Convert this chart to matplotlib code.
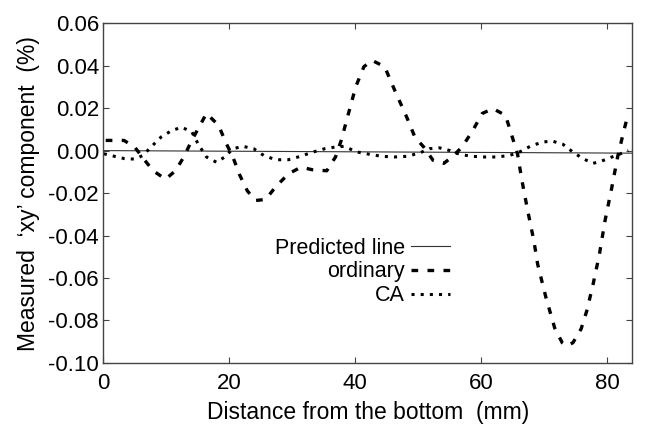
import numpy as np
import matplotlib.pyplot as plt

plt.rcParams['font.family'] = ['Liberation Sans', 'DejaVu Sans']

# ordinary (dashed)
ord_x = [0.4, 3.3, 5.0, 6.4, 7.9, 9.9, 11.5, 12.8, 14.1, 16.4, 18.3, 19.6, 20.6,
         21.6, 22.9, 24.2, 25.8, 27.4, 29.4, 31.4, 33.2, 35.5, 36.9, 37.8, 38.8,
         40.1, 41.4, 42.7, 44.7, 46.3, 48.2, 49.5, 50.9, 52.4, 54.1, 55.4, 57.0,
         58.7, 60.2, 61.9, 63.9, 64.8, 65.8, 66.5, 67.4, 68.4, 69.0, 70.3, 71.7,
         72.9, 73.6, 74.6, 75.9, 76.8, 77.8, 78.8, 79.7, 80.8, 81.7, 82.7, 83.4]
ord_y = [0.0048, 0.0048, 0.0017, -0.0038, -0.0094, -0.0135, -0.0094, -0.003, 0.005,
         0.0175, 0.012, 0.003, -0.003, -0.011, -0.019, -0.0235, -0.023, -0.017,
         -0.011, -0.0078, -0.009, -0.0095, -0.003, 0.0048, 0.0158, 0.030, 0.0395,
         0.0425, 0.0395, 0.0284, 0.0158, 0.0064, 0.0017, -0.0046, -0.006, -0.003,
         0.0017, 0.0095, 0.0175, 0.0198, 0.0166, 0.008, -0.0015, -0.014, -0.028,
         -0.0425, -0.0535, -0.069, -0.0835, -0.0905, -0.092, -0.0905, -0.084,
         -0.0755, -0.063, -0.049, -0.033, -0.017, -0.003, 0.0095, 0.0175]

# CA (dotted)
ca_x = [0.1, 1.8, 3.4, 5.0, 6.3, 7.6, 9.2, 10.9, 12.5, 14.1, 15.1, 16.4, 18.0, 19.3,
        20.6, 22.2, 23.9, 25.5, 27.4, 29.4, 31.3, 33.3, 35.2, 36.9, 38.2, 40.4,
        42.4, 44.3, 46.3, 48.2, 50.2, 51.8, 53.4, 55.1, 56.7, 58.6, 60.6, 62.5,
        64.5, 66.1, 67.8, 69.7, 71.3, 73.0, 74.6, 76.2, 77.8, 79.1, 80.8, 82.4, 83.4]
ca_y = [-0.0015, -0.0027, -0.0038, -0.004, -0.0023, 0.0017, 0.0064, 0.0095, 0.011,
        0.0087, 0.003, -0.003, -0.0055, -0.003, 0.0009, 0.002, 0.0009, -0.0023,
        -0.0043, -0.0043, -0.0027, -0.0007, 0.0009, 0.0017, 0.002, -0.0007, -0.0018,
        -0.0027, -0.003, -0.0027, -0.0012, 0.0009, 0.0013, 0.0, -0.0018, -0.0027,
        -0.003, -0.003, -0.0023, -0.0007, 0.002, 0.004, 0.0045, 0.003, -0.0007,
        -0.0038, -0.006, -0.005, -0.003, -0.0012, 0.0]

# predicted line (straight)
pred_x = [0, 84]
pred_y = [0.0, -0.0012]

fig = plt.figure(figsize=(6.45, 4.3), dpi=100)
ax = fig.add_axes([0.160, 0.156, 0.820, 0.790])

ax.plot(pred_x, pred_y, color='#333333', lw=0.8, label='Predicted line')
ax.plot(ord_x, ord_y, color='black', lw=2.4, linestyle=(0, (2.0, 2.8)), label='ordinary')
ax.plot(ca_x, ca_y, color='black', lw=2.2, linestyle=(0, (1.0, 2.0)), label='CA')

ax.set_xlim(0, 84)
ax.set_ylim(-0.10, 0.06)
ax.set_xticks([0, 20, 40, 60, 80])
ax.set_yticks(np.arange(-0.10, 0.061, 0.02))
ax.yaxis.set_major_formatter(plt.FormatStrFormatter('%.2f'))
ax.tick_params(direction='in', length=4, width=0.8, top=True, right=True,
               labelsize=16, color='#444444')
ax.tick_params(axis='x', pad=7)
ax.tick_params(axis='y', pad=3)
for s in ax.spines.values():
    s.set_color('#444444')
    s.set_linewidth(1.0)

ax.set_xlabel('Distance from the bottom  (mm)', fontsize=16.5, labelpad=5)
ax.set_ylabel('Measured  \u2018xy\u2019 component  (%)', fontsize=16.5, labelpad=6)

ax.legend(loc='center right', bbox_to_anchor=(450 / 645, 1 - 272 / 430),
          bbox_transform=fig.transFigure, frameon=False, markerfirst=False,
          fontsize=15.5, handlelength=1.8, handletextpad=0.3, labelspacing=0.12,
          borderpad=0, borderaxespad=0)

fig.savefig('out.png', dpi=100)
